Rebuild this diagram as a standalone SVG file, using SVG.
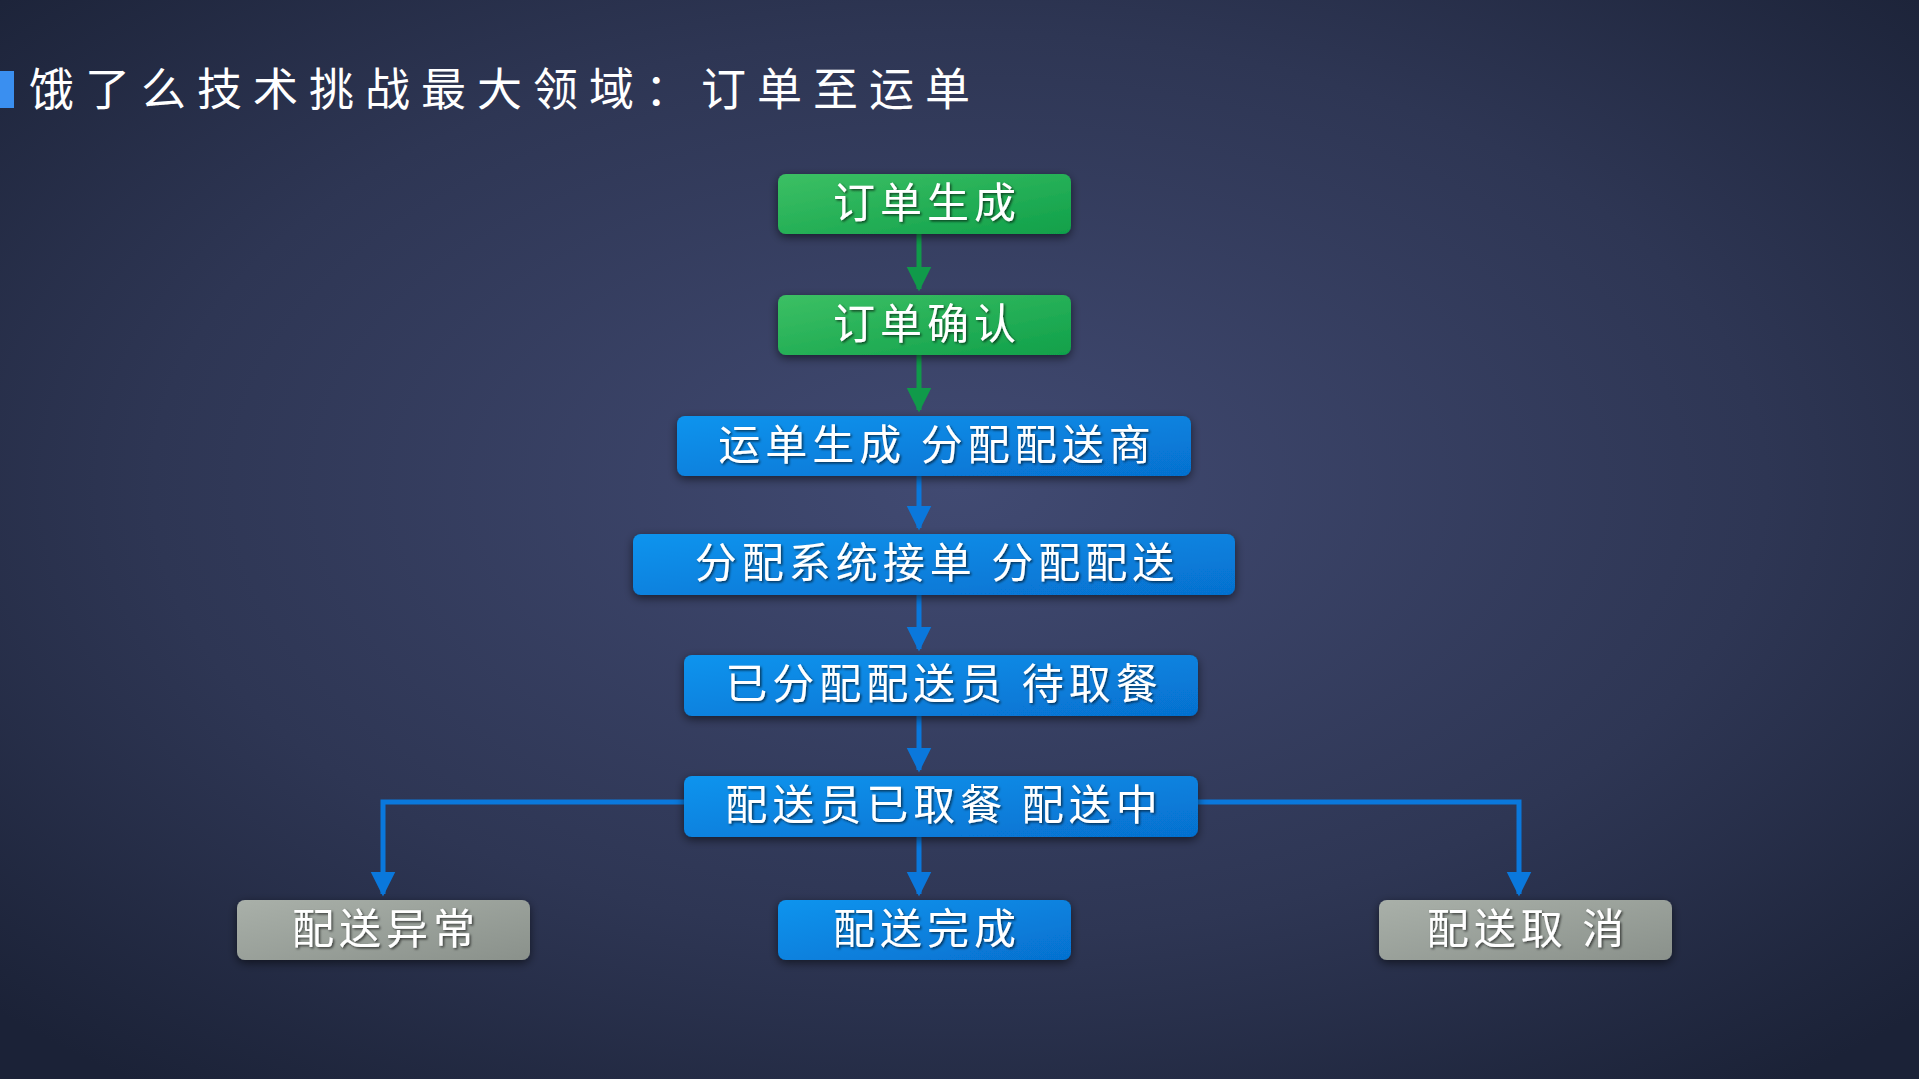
<svg xmlns="http://www.w3.org/2000/svg" width="1919" height="1079" viewBox="0 0 1919 1079">
<defs>
<radialGradient id="bg" cx="0.5" cy="0.45" r="0.7">
<stop offset="0" stop-color="#414a72"/><stop offset="0.6" stop-color="#2e3654"/><stop offset="1" stop-color="#1b2237"/>
</radialGradient>
<linearGradient id="gG" x1="0" y1="0" x2="1" y2="1"><stop offset="0" stop-color="#3cc064"/><stop offset="1" stop-color="#10a04a"/></linearGradient>
<linearGradient id="gB" x1="0" y1="0" x2="1" y2="1"><stop offset="0" stop-color="#0a94ee"/><stop offset="1" stop-color="#0670cf"/></linearGradient>
<linearGradient id="gY" x1="0" y1="0" x2="1" y2="1"><stop offset="0" stop-color="#a9b0a9"/><stop offset="1" stop-color="#8a918b"/></linearGradient>
<filter id="sh" x="-20%" y="-30%" width="140%" height="170%"><feDropShadow dx="0" dy="3" stdDeviation="5" flood-color="#000" flood-opacity="0.55"/></filter>
<filter id="ts"><feDropShadow dx="1.5" dy="1.5" stdDeviation="1" flood-color="#000" flood-opacity="0.6"/></filter>
<marker id="ag" viewBox="0 0 10 10" refX="5" refY="9" markerWidth="5.5" markerHeight="5" orient="0" markerUnits="strokeWidth"><path d="M0,0 L10,0 L5,10 Z" fill="#109a4a"/></marker>
<marker id="ab" viewBox="0 0 10 10" refX="5" refY="9" markerWidth="5.5" markerHeight="5" orient="0" markerUnits="strokeWidth"><path d="M0,0 L10,0 L5,10 Z" fill="#0a78dc"/></marker>
</defs>
<style>
.t{font-family:"Noto Sans CJK SC","Liberation Serif",serif;font-size:42px;letter-spacing:5px;fill:#fff;text-anchor:middle;filter:url(#ts)}
.cg{stroke:#109a4a;stroke-width:5;fill:none}
.cb{stroke:#0a78dc;stroke-width:5;fill:none}
</style>
<rect width="1919" height="1079" fill="url(#bg)"/>
<rect x="0" y="71" width="14" height="37" fill="#3a8ff0"/>
<text x="29" y="106" font-family="'Noto Sans CJK SC','Liberation Serif',serif" font-size="45" letter-spacing="11" fill="#fff">饿了么技术挑战最大领域：订单至运单</text>
<g id="connectors">
<path class="cg" d="M919,234 V289" marker-end="url(#ag)"/>
<path class="cg" d="M919,355 V410" marker-end="url(#ag)"/>
<path class="cb" d="M919,476 V528" marker-end="url(#ab)"/>
<path class="cb" d="M919,595 V649" marker-end="url(#ab)"/>
<path class="cb" d="M919,716 V770" marker-end="url(#ab)"/>
<path class="cb" d="M919,837 V894" marker-end="url(#ab)"/>
<path class="cb" d="M684,802 H383 V894" marker-end="url(#ab)"/>
<path class="cb" d="M1198,802 H1519 V894" marker-end="url(#ab)"/>
</g>
<g id="n1"><rect x="778" y="174" width="293" height="60" rx="8" fill="url(#gG)" filter="url(#sh)"/><text class="t" x="927" y="218">订单生成</text></g>
<g id="n2"><rect x="778" y="295" width="293" height="60" rx="8" fill="url(#gG)" filter="url(#sh)"/><text class="t" x="927" y="339">订单确认</text></g>
<g id="n3"><rect x="677" y="416" width="514" height="60" rx="8" fill="url(#gB)" filter="url(#sh)"/><text class="t" x="937" y="460">运单生成 分配配送商</text></g>
<g id="n4"><rect x="633" y="534" width="602" height="61" rx="8" fill="url(#gB)" filter="url(#sh)"/><text class="t" x="937" y="578">分配系统接单 分配配送</text></g>
<g id="n5"><rect x="684" y="655" width="514" height="61" rx="8" fill="url(#gB)" filter="url(#sh)"/><text class="t" x="944" y="699">已分配配送员 待取餐</text></g>
<g id="n6"><rect x="684" y="776" width="514" height="61" rx="8" fill="url(#gB)" filter="url(#sh)"/><text class="t" x="944" y="820">配送员已取餐 配送中</text></g>
<g id="n7"><rect x="237" y="900" width="293" height="60" rx="8" fill="url(#gY)" filter="url(#sh)"/><text class="t" x="386" y="944">配送异常</text></g>
<g id="n8"><rect x="778" y="900" width="293" height="60" rx="8" fill="url(#gB)" filter="url(#sh)"/><text class="t" x="927" y="944">配送完成</text></g>
<g id="n9"><rect x="1379" y="900" width="293" height="60" rx="8" fill="url(#gY)" filter="url(#sh)"/><text class="t" x="1528" y="944">配送取 消</text></g>
</svg>
